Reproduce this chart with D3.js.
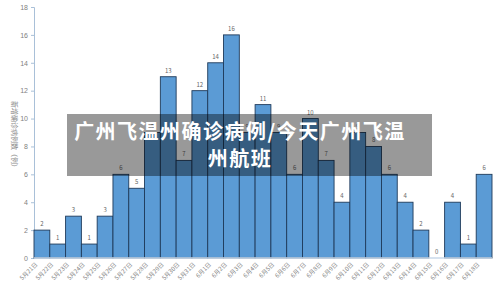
<!DOCTYPE html>
<html>
<head>
<meta charset="utf-8">
<script src="https://cdn.jsdelivr.net/npm/d3@7"></script>
<style>
  body { margin: 0; background: #fff; }
  svg { display: block; font-family: "Noto Sans CJK SC", "Noto Sans", sans-serif; }
</style>
</head>
<body>
<svg id="chart" width="500" height="291"></svg>
<script>
// Data
const dates = ["5月21日","5月22日","5月23日","5月24日","5月25日","5月26日","5月27日","5月28日",
  "5月29日","5月30日","5月31日","6月1日","6月2日","6月3日","6月4日","6月5日","6月6日","6月7日",
  "6月8日","6月9日","6月10日","6月11日","6月12日","6月13日","6月14日","6月15日","6月16日",
  "6月17日","6月18日"];
const cases = [2,1,3,1,3,6,5,9,13,7,12,14,16,9,11,9,6,10,7,4,9,8,6,4,2,0,4,1,6];
const yTicks = [0,2,4,6,8,10,12,14,16,18];
const yTitle = "新增确诊病例数（例）";
const bannerLines = ["广州飞温州确诊病例/今天广州飞温", "州航班"];

const margin = {left: 34, right: 8, top: 7, bottom: 33};
const width = 500, height = 291;

const svg = d3.select("#chart");

const x = d3.scaleBand()
  .domain(dates)
  .range([margin.left, width - margin.right])
  .padding(0);
const y = d3.scaleLinear()
  .domain([0, 18])
  .range([height - margin.bottom, margin.top]);

// Y axis
const yAxis = svg.append("g")
  .attr("transform", `translate(${margin.left},0)`)
  .call(d3.axisLeft(y).tickValues(yTicks).tickSize(3).tickPadding(3));
yAxis.select(".domain").attr("stroke", "#a9c0d8");
yAxis.selectAll(".tick line").attr("stroke", "#a9c0d8");
yAxis.selectAll(".tick text")
  .attr("fill", "#7f7f7f")
  .style("font-size", "7px");

// Y title, vertical
svg.append("text")
  .attr("transform", `translate(12, 136) rotate(90)`)
  .attr("text-anchor", "middle")
  .attr("fill", "#8c8c8c")
  .style("font-size", "7px")
  .text(yTitle);

// Bars
svg.selectAll(".bar")
  .data(cases)
  .enter()
  .append("rect")
  .attr("class", "bar")
  .attr("x", (d, i) => x(dates[i]))
  .attr("y", d => y(d))
  .attr("width", x.bandwidth())
  .attr("height", d => y(0) - y(d))
  .attr("fill", "#5b9bd5")
  .attr("stroke", "#1f3a5a")
  .attr("stroke-width", 0.9);

// X baseline
svg.append("line")
  .attr("x1", margin.left).attr("x2", width - margin.right)
  .attr("y1", y(0)).attr("y2", y(0))
  .attr("stroke", "#c9d9ea")
  .attr("stroke-width", 1.5);

// Value labels
svg.selectAll(".val")
  .data(cases)
  .enter()
  .append("text")
  .attr("x", (d, i) => x(dates[i]) + x.bandwidth() / 2)
  .attr("y", d => y(d) - 4)
  .attr("text-anchor", "middle")
  .attr("fill", "#666")
  .style("font-size", "6px")
  .text(d => d);

// X labels, rotated
svg.selectAll(".xlab")
  .data(dates)
  .enter()
  .append("text")
  .attr("transform", d => `translate(${x(d) + x.bandwidth() / 2 - 4}, ${y(0) + 7}) rotate(-45)`)
  .attr("text-anchor", "end")
  .attr("fill", "#7f7f7f")
  .style("font-size", "6px")
  .text(d => d);

// Banner overlay
svg.append("rect")
  .attr("x", 67).attr("y", 114)
  .attr("width", 365).attr("height", 62)
  .attr("fill", "#000")
  .attr("fill-opacity", 0.4);

svg.selectAll(".banner")
  .data(bannerLines)
  .enter()
  .append("text")
  .attr("x", 240)
  .attr("y", (d, i) => 139 + i * 27)
  .attr("text-anchor", "middle")
  .attr("fill", "#fff")
  .style("font-size", "20px")
  .style("font-weight", "bold")
  .style("letter-spacing", "1.5px")
  .text(d => d);
</script>
</body>
</html>
